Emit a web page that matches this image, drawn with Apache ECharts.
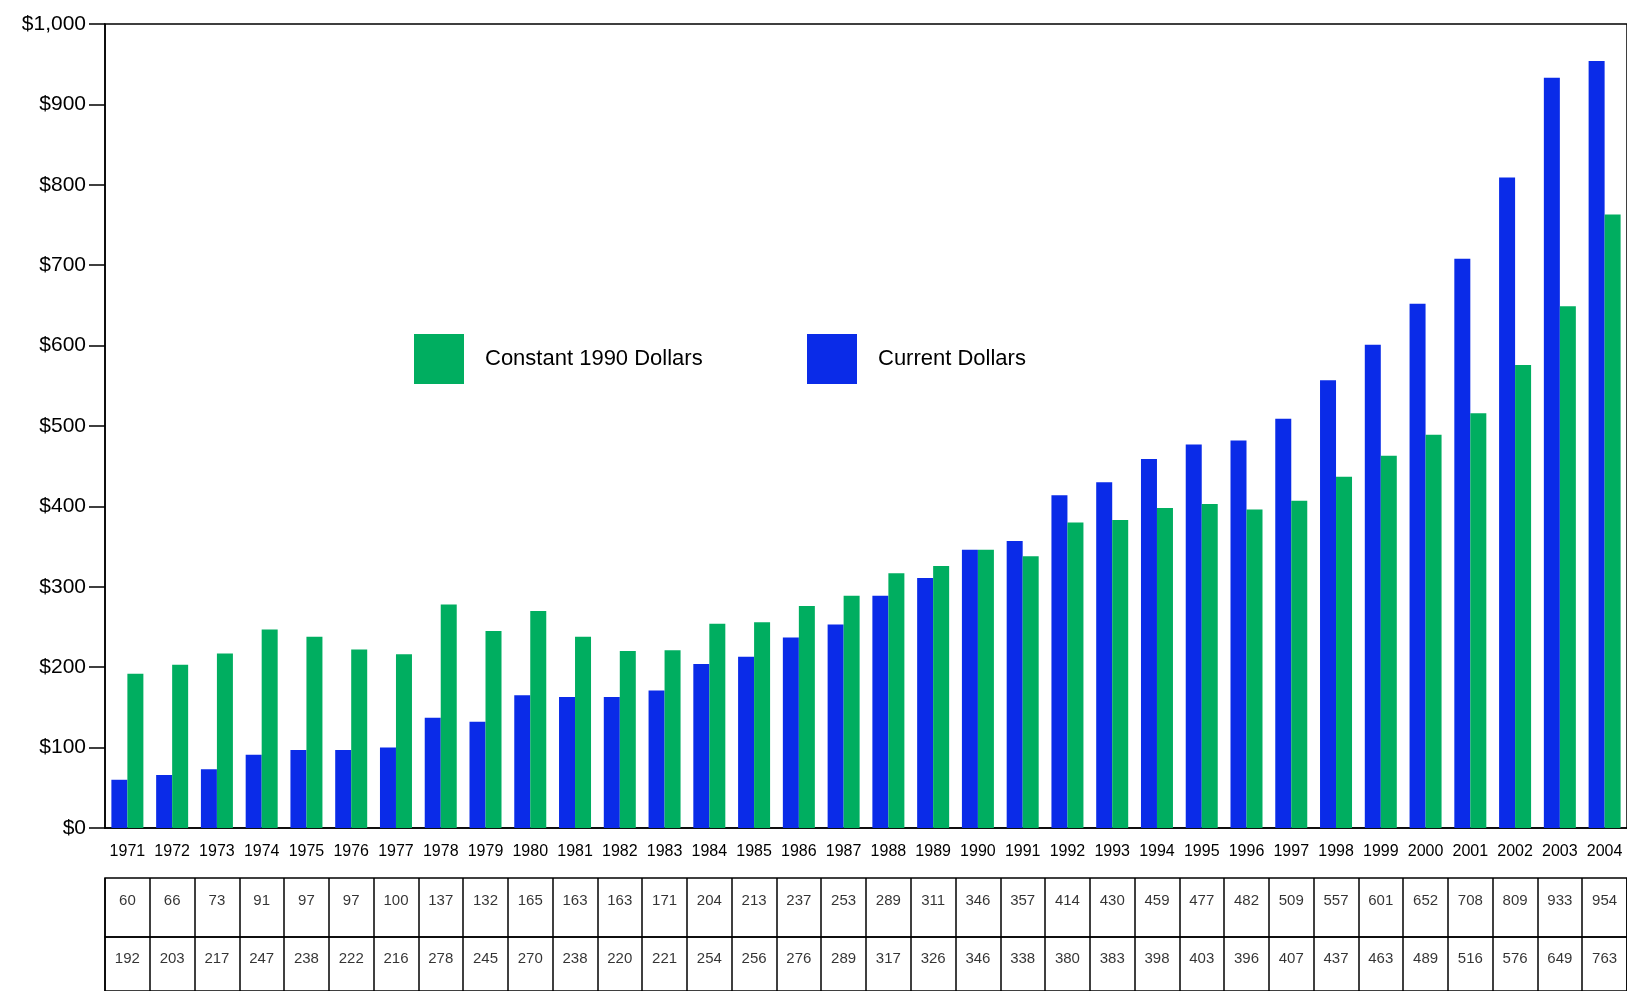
<!DOCTYPE html>
<html>
<head>
<meta charset="utf-8">
<script src="https://cdn.jsdelivr.net/npm/echarts@6/dist/echarts.min.js"></script>
<style>
  html, body { margin: 0; padding: 0; background: #fff; }
  #chart { width: 1627px; height: 991px; }
</style>
</head>
<body>
<div id="chart"></div>
<script>
  const years = ['1971', '1972', '1973', '1974', '1975', '1976', '1977', '1978', '1979', '1980',
    '1981', '1982', '1983', '1984', '1985', '1986', '1987', '1988', '1989', '1990',
    '1991', '1992', '1993', '1994', '1995', '1996', '1997', '1998', '1999', '2000',
    '2001', '2002', '2003', '2004'];
  const currentDollars = [60, 66, 73, 91, 97, 97, 100, 137, 132, 165,
    163, 163, 171, 204, 213, 237, 253, 289, 311, 346,
    357, 414, 430, 459, 477, 482, 509, 557, 601, 652,
    708, 809, 933, 954];
  const constantDollars = [192, 203, 217, 247, 238, 222, 216, 278, 245, 270,
    238, 220, 221, 254, 256, 276, 289, 317, 326, 346,
    338, 380, 383, 398, 403, 396, 407, 437, 463, 489,
    516, 576, 649, 763];
  const yTicks = [0, 100, 200, 300, 400, 500, 600, 700, 800, 900, 1000];

  const blue = '#0a2be8';
  const green = '#00ae60';
  const font = 'Liberation Sans, Arial, sans-serif';

  let chart = echarts.init(document.getElementById('chart'));

  const tableGrid = (top, height) => ({
    left: 105, width: 1524, top: top, height: height,
    show: true, borderColor: '#000', borderWidth: 1.5, backgroundColor: 'transparent'
  });
  const tableX = (gi) => ({
    type: 'category', gridIndex: gi, data: years, boundaryGap: true,
    axisLine: { show: false }, axisTick: { show: false }, axisLabel: { show: false },
    splitLine: { show: true, interval: 0, lineStyle: { color: '#000', width: 1.5 } }
  });
  const tableY = (gi) => ({ type: 'value', gridIndex: gi, min: 0, max: 1, show: false });
  const tableRow = (gi, vals, dy) => ({
    type: 'scatter', xAxisIndex: gi, yAxisIndex: gi, symbolSize: 0, silent: true,
    data: vals.map((v, i) => [years[i], 0.5, v]),
    label: {
      show: true, position: 'inside', offset: [0, dy],
      formatter: (p) => String(p.data[2]),
      color: '#000', fontSize: 15, fontFamily: font
    }
  });

  const option = {
    backgroundColor: '#fff',
    animation: false,
    legend: [
      {
        left: 409, top: 329, itemWidth: 50, itemHeight: 50, icon: 'rect',
        data: ['Constant 1990 Dollars'],
        textStyle: { fontSize: 22, fontFamily: font, color: '#000', padding: [0, 0, 0, 16] }
      },
      {
        left: 802, top: 329, itemWidth: 50, itemHeight: 50, icon: 'rect',
        data: ['Current Dollars'],
        textStyle: { fontSize: 22, fontFamily: font, color: '#000', padding: [0, 0, 0, 16] }
      }
    ],
    grid: [
      { left: 105, width: 1524, top: 24, height: 804, show: true, borderColor: '#000', borderWidth: 1.5 },
      tableGrid(878, 59),
      tableGrid(937, 60)
    ],
    xAxis: [
      {
        type: 'category', gridIndex: 0, data: years,
        axisLine: { lineStyle: { color: '#000', width: 1.5 } },
        axisTick: { length: 14, interval: 0, lineStyle: { color: '#000', width: 1.5 } },
        axisLabel: { interval: 0, margin: 16, fontSize: 16, fontFamily: font, color: '#000' }
      },
      tableX(1),
      tableX(2)
    ],
    yAxis: [
      {
        type: 'value', gridIndex: 0, min: 0, max: 1000, interval: 100,
        axisLine: { show: true, lineStyle: { color: '#000', width: 1.5 } },
        axisTick: { show: true, length: 16, lineStyle: { color: '#000', width: 1.5 } },
        splitLine: { show: false },
        axisLabel: {
          margin: 19, fontSize: 21, fontFamily: font, color: '#000',
          formatter: (v) => yTicks.includes(v) ? '$' + v.toLocaleString('en-US') : ''
        }
      },
      tableY(1),
      tableY(2)
    ],
    series: [
      {
        name: 'Current Dollars', type: 'bar', data: currentDollars,
        barWidth: 16, barGap: '0%', itemStyle: { color: blue }
      },
      {
        name: 'Constant 1990 Dollars', type: 'bar', data: constantDollars,
        barWidth: 16, barGap: '0%', itemStyle: { color: green }
      },
      tableRow(1, currentDollars, -7),
      tableRow(2, constantDollars, -5)
    ]
  };
  chart.setOption(option);
</script>
</body>
</html>
